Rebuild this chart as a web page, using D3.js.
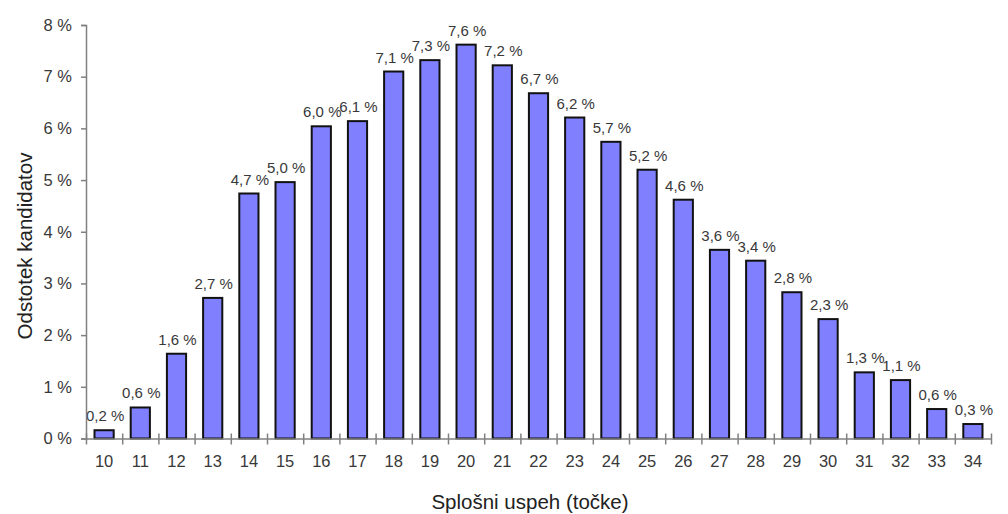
<!DOCTYPE html>
<html><head><meta charset="utf-8">
<script src="https://cdn.jsdelivr.net/npm/d3@7"></script>
<style>
body{margin:0;background:#fff;}
text{font-family:"Liberation Sans",Arial,sans-serif;}
</style></head>
<body><svg id="c" width="1008" height="514"></svg>
<script>
const categories = ["10","11","12","13","14","15","16","17","18","19","20","21","22","23","24","25","26","27","28","29","30","31","32","33","34"];
const values = [0.16,0.60,1.64,2.72,4.74,4.96,6.04,6.14,7.10,7.32,7.62,7.22,6.68,6.21,5.74,5.20,4.62,3.65,3.44,2.83,2.31,1.28,1.13,0.57,0.28];
const yTicks = [0,1,2,3,4,5,6,7,8];
const xTitle = "Splošni uspeh (točke)";
const yTitle = "Odstotek kandidatov";

const svg = d3.select("#c");
const m = {left:86, right:1008-991, top:25, bottom:514-438.5};
const W = 1008, H = 514;
const x = d3.scaleBand().domain(categories).range([m.left, W-m.right]).paddingInner(0.47).paddingOuter(0.235);
const y = d3.scaleLinear().domain([0,8]).range([H-m.bottom, m.top]);
const fmt = v => d3.format(".1f")(v).replace(".", ",") + " %";
const txt = "#383838", axisCol = "#808080";

// bars
svg.append("g").selectAll("rect").data(values).join("rect")
  .attr("x",(d,i)=>x(categories[i]))
  .attr("y",d=>y(d))
  .attr("width",x.bandwidth())
  .attr("height",d=>y(0)-y(d))
  .attr("fill","#8080ff").attr("stroke","#111").attr("stroke-width",2);

// labels
svg.append("g").selectAll("text").data(values).join("text")
  .attr("x",(d,i)=>x(categories[i])+x.bandwidth()/2+1)
  .attr("y",d=>y(d)-9)
  .attr("text-anchor","middle").attr("font-size",15).attr("fill",txt)
  .text(d=>fmt(d));

// y axis
const ya = svg.append("g").attr("transform",`translate(${m.left},0)`)
  .call(d3.axisLeft(y).tickValues(yTicks).tickSize(5).tickPadding(9).tickFormat(d=>d+" %"));
ya.selectAll("text").attr("font-size",16.5).attr("fill",txt);
ya.selectAll("line,path").attr("stroke",axisCol).attr("stroke-width",1.5);

// x axis: labels centered, ticks at band boundaries
const xa = svg.append("g").attr("transform",`translate(0,${y(0)})`)
  .call(d3.axisBottom(x).tickSize(0).tickPadding(16.5));
xa.selectAll("text").attr("font-size",16.5).attr("fill",txt);
xa.select("path").attr("stroke",axisCol).attr("stroke-width",1.5);
const bx = d3.scaleLinear().domain([0,categories.length]).range([m.left, W-m.right]);
const xb = svg.append("g").attr("transform",`translate(0,${y(0)})`)
  .call(d3.axisBottom(bx).tickValues(d3.range(categories.length+1)).tickSize(6).tickFormat(""));
xb.select("path").remove();
xb.selectAll("line").attr("stroke",axisCol).attr("stroke-width",1.5).attr("y1",-5);

// titles
svg.append("text").attr("x",530).attr("y",509).attr("text-anchor","middle")
  .attr("font-size",20.5).attr("fill","#222").text(xTitle);
svg.append("text").attr("transform","translate(32,246) rotate(-90)").attr("text-anchor","middle")
  .attr("font-size",20.5).attr("fill","#222").text(yTitle);
</script></body></html>
